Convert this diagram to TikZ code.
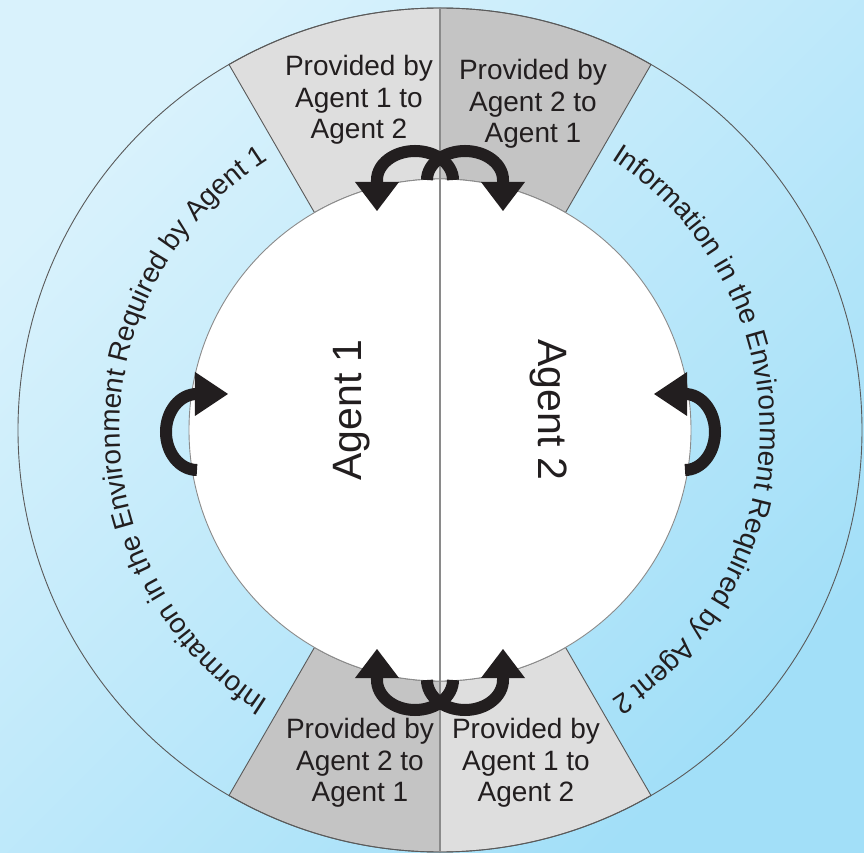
\documentclass[tikz,border=0pt]{standalone}
\usepackage{fontspec}
\setmainfont{Liberation Sans}
\usetikzlibrary{decorations.text}

\definecolor{bgtop}{HTML}{D9F2FC}
\definecolor{bgbot}{HTML}{A2DFF8}
\definecolor{wedgelight}{HTML}{DEDEDE}
\definecolor{wedgedark}{HTML}{C4C4C4}
\definecolor{ink}{HTML}{221E1F}
\definecolor{rim}{HTML}{5A5A5A}
\definecolor{divider}{HTML}{8A8A8A}

\newcommand\ringfont{\fontsize{28}{30}\selectfont}

\begin{document}
\begin{tikzpicture}[x=1pt,y=1pt,
  ringline/.style={draw=rim, line width=0.9pt},
  wedge/.style={ringline, line join=round},
  boxtext/.style={align=center, font=\fontsize{28}{31.5}\selectfont, text=ink, inner sep=0pt},
  agenttext/.style={font=\fontsize{41}{45}\selectfont, text=ink, inner sep=0pt},
  swapband/.style={line width=12pt, draw=ink},
  swaphead/.style={fill=ink},
  ringtext/.style={decorate, decoration={text along path, text align=center,
      text color=ink, text={|\ringfont|#1}}},
]
\def\Rin{251}
\def\Rout{422}
\def\Rtxt{320}

% page and background
\useasboundingbox (-440,-423) rectangle (424,430);
\shade[top color=bgtop, bottom color=bgbot, shading angle=45]
  (-440,-423) rectangle (424,430);
\coordinate (O) at (0,0);

% shared-information sectors
\filldraw[wedge, fill=wedgelight] (90:\Rin) -- (90:\Rout)
  arc[start angle=90, end angle=120, radius=\Rout] -- (120:\Rin)
  arc[start angle=120, end angle=90, radius=\Rin] -- cycle;
\filldraw[wedge, fill=wedgedark] (60:\Rin) -- (60:\Rout)
  arc[start angle=60, end angle=90, radius=\Rout] -- (90:\Rin)
  arc[start angle=90, end angle=60, radius=\Rin] -- cycle;
\filldraw[wedge, fill=wedgedark] (240:\Rin) -- (240:\Rout)
  arc[start angle=240, end angle=270, radius=\Rout] -- (270:\Rin)
  arc[start angle=270, end angle=240, radius=\Rin] -- cycle;
\filldraw[wedge, fill=wedgelight] (270:\Rin) -- (270:\Rout)
  arc[start angle=270, end angle=300, radius=\Rout] -- (300:\Rin)
  arc[start angle=300, end angle=270, radius=\Rin] -- cycle;

% environment ring and agent disc
\draw[ringline] (O) circle[radius=\Rout];
\filldraw[ringline, fill=white, draw=rim!70] (O) circle[radius=\Rin];
\draw[divider, line width=1.4pt] (0,\Rout) -- (0,-\Rout);

% sector labels
\node[boxtext] (topA) at (-81,330) {Provided by\\Agent 1 to\\Agent 2};
\node[boxtext] (topB) at (93,326) {Provided by\\Agent 2 to\\Agent 1};
\node[boxtext] (botA) at (-80,-333) {Provided by\\Agent 2 to\\Agent 1};
\node[boxtext] (botB) at (86,-333) {Provided by\\Agent 1 to\\Agent 2};

% agents
\node[agenttext, rotate=90] (agentA) at (-88,20) {Agent 1};
\node[agenttext, rotate=-90] (agentB) at (109,20) {Agent 2};

% environment labels along the ring
\path[ringtext={Information in the Environment Required by Agent 1}]
  (250:\Rtxt) arc[start angle=250, end angle=110, radius=\Rtxt];
\path[ringtext={Information in the Environment Required by Agent 2}]
  (70:\Rtxt) arc[start angle=70, end angle=-70, radius=\Rtxt];

% exchange arrows: curved band plus a solid triangular head
% top pair
\draw[swapband] (13,250) arc[start angle=0, end angle=180, x radius=38, y radius=29] -- ++(0,-3);
\fill[swaphead] (-85,248) -- (-41,248) -- (-63,219) -- cycle;
\draw[swapband] (-13,250) arc[start angle=180, end angle=0, x radius=38, y radius=29] -- ++(0,-3);
\fill[swaphead] (41,248) -- (85,248) -- (63,219) -- cycle;
% bottom pair
\draw[swapband] (13,-250) arc[start angle=0, end angle=-180, x radius=38, y radius=30] -- ++(0,3);
\fill[swaphead] (-85,-248) -- (-41,-248) -- (-63,-219) -- cycle;
\draw[swapband] (-13,-250) arc[start angle=180, end angle=360, x radius=38, y radius=30] -- ++(0,3);
\fill[swaphead] (41,-248) -- (85,-248) -- (63,-219) -- cycle;
% side arrows
\draw[swapband] (-243,-40) arc[start angle=270, end angle=90, x radius=31, y radius=38] -- ++(3,0);
\fill[swaphead] (-245,58) -- (-245,14) -- (-212,36) -- cycle;
\draw[swapband] (245,-40) arc[start angle=-90, end angle=90, x radius=30, y radius=38] -- ++(-3,0);
\fill[swaphead] (247,58) -- (247,14) -- (214,36) -- cycle;
\end{tikzpicture}
\end{document}
